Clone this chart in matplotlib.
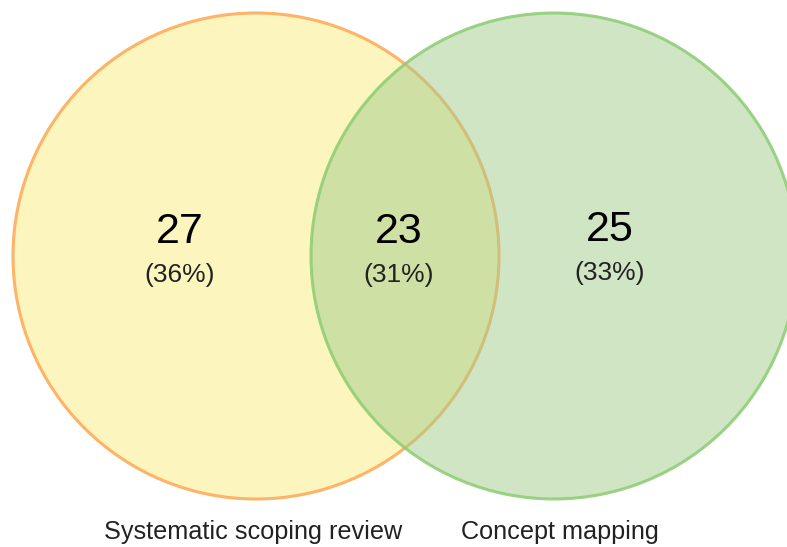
import matplotlib
matplotlib.use("Agg")
import matplotlib.pyplot as plt
from matplotlib.patches import Circle

set_labels = ["Systematic scoping review", "Concept mapping"]
region_counts = [27, 23, 25]          # A only, A∩B, B only
region_percents = ["36%", "31%", "33%"]

plt.rcParams['font.family'] = ['Liberation Sans', 'DejaVu Sans']

W, H = 787, 547
fig = plt.figure(figsize=(W / 100, H / 100), dpi=100)
ax = fig.add_axes([0, 0, 1, 1])
ax.set_xlim(0, W)
ax.set_ylim(H, 0)
ax.set_aspect('equal')
ax.axis('off')

r = 243
cy = 256
left_c = (256, cy)
right_c = (554, cy)

ax.add_patch(Circle(left_c, r, facecolor='#FDF5BE', edgecolor='#FFB366', lw=2.2, zorder=1))
ax.add_patch(Circle(right_c, r, facecolor=(0.63, 0.80, 0.545, 0.5), edgecolor=(0.55, 0.80, 0.45, 0.85),
                    lw=2.2, zorder=2))

region_x = [180, 399, 610]
region_y = [232, 232, 230]
for x, y, n, p in zip(region_x, region_y, region_counts, region_percents):
    ax.text(x, y, str(n), ha='center', va='center', fontsize=31, color='black', zorder=5)
    ax.text(x, y + 43, f"({p})", ha='center', va='center', fontsize=19, color='#222222', zorder=5)

label_x = [253, 560]
for x, s in zip(label_x, set_labels):
    ax.text(x, 532, s, ha='center', va='center', fontsize=18.2, color='#222222')

fig.savefig("out.png", dpi=100, facecolor='white')
